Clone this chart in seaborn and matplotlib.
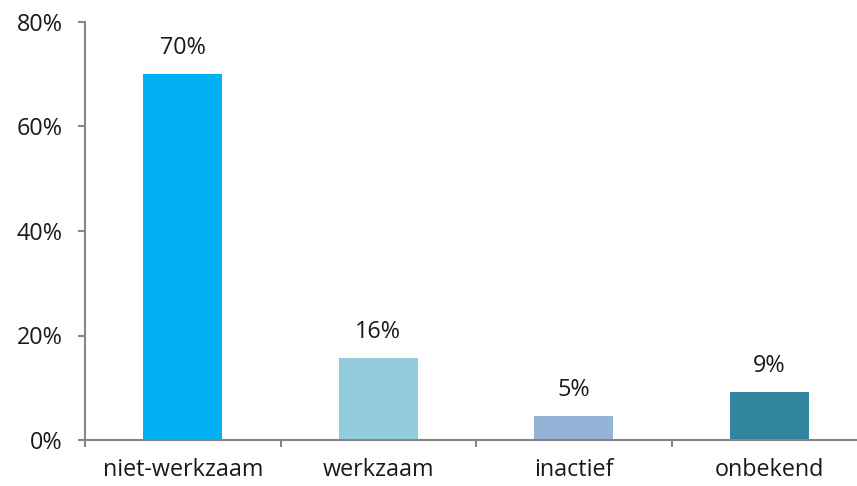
import matplotlib
matplotlib.use('Agg')
import numpy as np
import pandas as pd
import seaborn as sns
from matplotlib import pyplot as plt
from matplotlib.ticker import FixedLocator

categories = ['niet-werkzaam', 'werkzaam', 'inactief', 'onbekend']
values = [70.0, 15.7, 4.6, 9.2]
colors = ['#00B0F0', '#93CDDD', '#95B3D7', '#31859C']
yticks = [0, 20, 40, 60, 80]

df = pd.DataFrame({'cat': categories, 'pct': values})

sns.set_style('white')
plt.rcParams['font.family'] = ['Open Sans', 'DejaVu Sans']

fig = plt.figure(figsize=(8.57, 4.86), dpi=100)
ax = fig.add_axes([85 / 857, 46 / 486, 1 - 85 / 857, 418 / 486])

sns.barplot(data=df, x='cat', y='pct', hue='cat', palette=colors,
            width=0.405, legend=False, ax=ax, saturation=1, linewidth=0)

for i, v in enumerate(values):
    ax.annotate(f'{v:.0f}%', (i, v), xytext=(0, 19), textcoords='offset points',
                ha='center', va='center', fontsize=16.8, color='#1a1a1a')

ax.set_ylim(0, 80)
ax.set_yticks(yticks)
ax.set_yticklabels([f'{t}%' for t in yticks])
ax.set_xlim(-0.5, -0.5 + 4 * 772 / 782)
ax.set_xlabel('')
ax.set_ylabel('')

for side in ['top', 'right']:
    ax.spines[side].set_visible(False)
for side in ['left', 'bottom']:
    ax.spines[side].set_color('#868686')
    ax.spines[side].set_linewidth(1.5)

ax.tick_params(axis='y', left=True, length=5, width=1.5, color='#868686',
               labelsize=16.8, pad=11, labelcolor='#1a1a1a')
ax.tick_params(axis='x', which='major', length=0, labelsize=16.8, pad=13,
               labelcolor='#1a1a1a')
ax.xaxis.set_minor_locator(FixedLocator(np.arange(-0.5, 4, 1)))
ax.tick_params(axis='x', which='minor', bottom=True, length=5, width=1.5,
               color='#868686')

fig.savefig('out.png', dpi=100)
plt.close()
